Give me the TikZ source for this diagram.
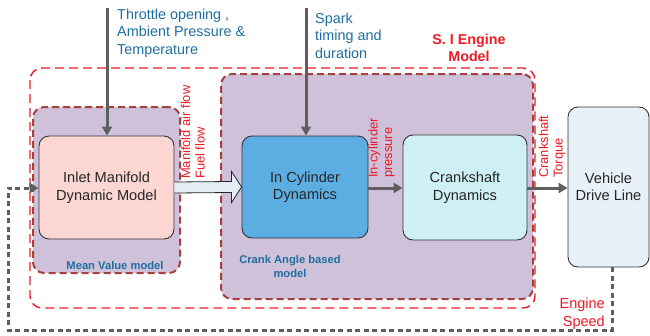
\documentclass[tikz,border=0pt]{standalone}
\usepackage{fontspec}
\setmainfont{Liberation Sans}
\usetikzlibrary{calc,arrows.meta}
\definecolor{grpfill}{RGB}{207,193,218}
\definecolor{grpedge}{RGB}{165,65,60}
\definecolor{sired}{RGB}{236,28,36}
\definecolor{labblue}{RGB}{31,110,160}
\definecolor{arrgray}{RGB}{95,95,95}
\definecolor{inletfill}{RGB}{251,214,211}
\definecolor{cylfill}{RGB}{92,173,226}
\definecolor{crankfill}{RGB}{206,239,243}
\definecolor{vehfill}{RGB}{232,240,248}
\definecolor{flowfill}{RGB}{228,238,247}
\tikzset{
  blockbox/.style={draw=black!80, line width=0.9pt, rounded corners=10pt, align=center,
    font=\fontsize{14.6}{17.5}\selectfont, text=black!85, inner sep=0pt},
  groupbox/.style={draw=grpedge, fill=grpfill, line width=2pt, dash pattern=on 7pt off 4pt,
    rounded corners=11pt},
  sibox/.style={draw=sired, line width=1.4pt, dash pattern=on 9pt off 5pt, rounded corners=12pt},
  inarrow/.style={draw=arrgray, line width=3pt, -{Triangle[length=9pt,width=10pt]}},
  sigarrow/.style={draw=arrgray, line width=3pt, -{Triangle[length=9pt,width=10pt]}},
  sigtext/.style={text=sired, font=\fontsize{12.9}{14.5}\selectfont, align=left, rotate=90,
    anchor=north west, inner sep=0pt},
  toptext/.style={text=labblue, font=\fontsize{14.4}{17.5}\selectfont, align=left,
    anchor=north west, inner sep=0pt},
  grplabel/.style={text=labblue, font=\bfseries\fontsize{11.2}{13.5}\selectfont, align=center, inner sep=0pt},
  feedback/.style={draw=arrgray, line width=3pt, dash pattern=on 5pt off 3.5pt},
}
\begin{document}
\begin{tikzpicture}[x=1pt,y=-1pt]
\useasboundingbox (0,0) rectangle (650,335);

% grouping regions
\node[groupbox, minimum width=147pt, minimum height=166pt] (mvm) at (106.5,190) {};
\node[groupbox, minimum width=312pt, minimum height=225pt] (cam) at (377,186.5) {};

% model blocks
\node[blockbox, fill=inletfill, minimum width=135pt, minimum height=103pt] (inlet) at (106.5,187.5) {Inlet Manifold\\Dynamic Model};
\node[blockbox, fill=cylfill, minimum width=126pt, minimum height=102pt] (cyl) at (305,187) {In Cylinder\\Dynamics};
\node[blockbox, fill=crankfill, minimum width=124pt, minimum height=105pt] (crank) at (465,187.5) {Crankshaft\\Dynamics};
\node[blockbox, fill=vehfill, minimum width=81pt, minimum height=160pt] (veh) at (608.5,187) {Vehicle\\Drive Line};

% engine model boundary
\draw[sibox] (30,68) rectangle (535,308);
\node[text=sired, font=\bfseries\fontsize{14.3}{16.5}\selectfont, align=center, inner sep=0pt] (silabel) at (469,48) {S. I Engine\\Model};

% group labels
\node[grplabel] (mvmlabel) at (115,265) {Mean Value model};
\node[grplabel] (camlabel) at (290,266.5) {Crank Angle based\\model};

% external inputs
\coordinate (thrtop) at (107,8);
\coordinate (sparktop) at (306,8);
\draw[inarrow] (thrtop) -- (thrtop |- inlet.north);
\draw[inarrow] (sparktop) -- (sparktop |- cyl.north);
\node[toptext] (thrtext) at (117,8.5) {Throttle opening ,\\Ambient Pressure \&\\Temperature};
\node[toptext] (sparktext) at (315,12.5) {Spark\\timing and\\duration};

% manifold flow (block arrow)
\draw[fill=flowfill, draw=black!85, line width=0.8pt]
  ($(inlet.east)+(0,-5.5)$) -- ($(cyl.west)+(-10,-5.5)$) -- ($(cyl.west)+(-10,-15.5)$)
  -- (cyl.west) -- ($(cyl.west)+(-10,15.5)$) -- ($(cyl.west)+(-10,5.5)$)
  -- ($(inlet.east)+(0,5.5)$);
\node[sigtext] (flowtext) at (180.5,179) {Manifold air flow\\Fuel flow};

% signal arrows
\coordinate (sigrow) at (0,188);
\draw[sigarrow] (cyl.east |- sigrow) -- (crank.west |- sigrow);
\draw[sigarrow] (crank.east |- sigrow) -- (veh.west |- sigrow);
\node[sigtext] (prestext) at (368,178) {In-cylinder\\pressure};
\node[sigtext] (torqtext) at (538.5,178) {Crankshaft\\Torque};

% engine speed feedback
\coordinate (fbx) at (612,0);
\coordinate (fbcorner) at (8,330);
\draw[feedback, -{Triangle[length=9pt,width=10pt]}]
  (veh.south -| fbx) |- (fbcorner) |- (inlet.west |- sigrow);
\node[text=sired, font=\fontsize{14.5}{18}\selectfont, align=right, anchor=north east, inner sep=0pt] (spdtext) at (605,297.5) {Engine\\Speed};
\end{tikzpicture}
\end{document}
